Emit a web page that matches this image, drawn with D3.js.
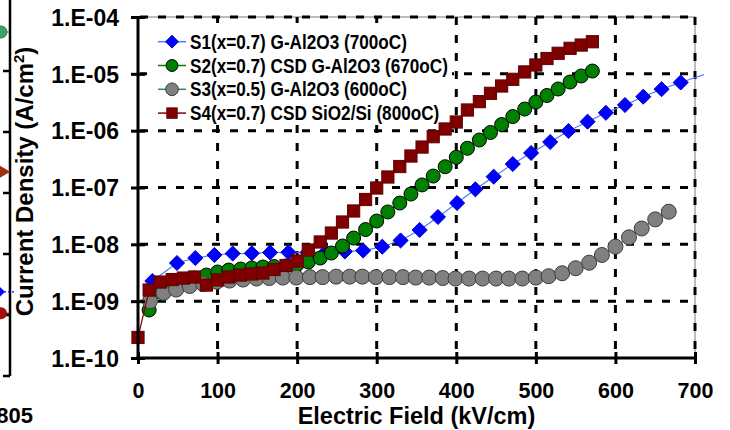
<!DOCTYPE html>
<html>
<head>
<meta charset="utf-8">
<script src="https://cdn.jsdelivr.net/npm/d3@7"></script>
<style>
  body { margin: 0; background: #fff; }
  svg { display: block; font-family: "Liberation Sans", Arial, sans-serif; font-weight: bold; }
</style>
</head>
<body>
<div id="chart"></div>
<script>
// ---- data ----
var yTicks = [1e-4, 1e-5, 1e-6, 1e-7, 1e-8, 1e-9, 1e-10];
var yTickLabels = ["1.E-04", "1.E-05", "1.E-06", "1.E-07", "1.E-08", "1.E-09", "1.E-10"];
var xTicks = [0, 100, 200, 300, 400, 500, 600, 700];

var seriesNames = [
  "S1(x=0.7) G-Al2O3 (700oC)",
  "S2(x=0.7) CSD G-Al2O3 (670oC)",
  "S3(x=0.5) G-Al2O3 (600oC)",
  "S4(x=0.7) CSD SiO2/Si (800oC)"
];

var s1Field = [18, 49, 72, 96, 119, 143, 166, 189, 213, 236, 260, 283, 307, 330, 354, 377, 401, 424, 447, 471, 494, 518, 541, 565, 588, 612, 635, 658, 682];
var s1Current = [2.26e-9, 4.69e-9, 5.74e-9, 6.49e-9, 6.89e-9, 6.95e-9, 7.18e-9, 7.24e-9, 7.18e-9, 7.33e-9, 7.48e-9, 7.78e-9, 9.08e-9, 1.17e-8, 1.79e-8, 3.03e-8, 5.33e-8, 9.29e-8, 1.55e-7, 2.59e-7, 4.05e-7, 6.31e-7, 9.86e-7, 1.44e-6, 2.06e-6, 2.83e-6, 3.96e-6, 5.37e-6, 7.04e-6];
// the S1 line runs on past the last marker, out of the frame
var s1TailField = [682, 730];
var s1TailCurrent = [7.04e-6, 1.19e-5];

var s2Field = [14, 28, 43, 57, 71, 86, 100, 114, 129, 143, 157, 171, 186, 200, 214, 229, 243, 257, 271, 286, 300, 314, 329, 343, 357, 371, 386, 400, 414, 429, 443, 457, 471, 486, 500, 514, 528, 543, 557, 571];
var s2Current = [7.0e-10, 1.45e-9, 1.92e-9, 2.26e-9, 2.55e-9, 2.88e-9, 3.26e-9, 3.53e-9, 3.68e-9, 3.83e-9, 3.99e-9, 4.07e-9, 4.16e-9, 4.42e-9, 4.89e-9, 5.74e-9, 7.03e-9, 9.33e-9, 1.29e-8, 1.82e-8, 2.57e-8, 3.71e-8, 5.33e-8, 7.67e-8, 1.11e-7, 1.59e-7, 2.32e-7, 3.40e-7, 4.90e-7, 6.85e-7, 9.29e-7, 1.28e-6, 1.77e-6, 2.40e-6, 3.19e-6, 4.16e-6, 5.41e-6, 7.18e-6, 9.16e-6, 1.12e-5];

var s3Field = [15, 32, 48, 65, 82, 99, 115, 132, 149, 165, 182, 199, 216, 232, 249, 266, 282, 299, 316, 333, 349, 366, 383, 399, 416, 433, 450, 466, 483, 500, 516, 533, 550, 567, 583, 600, 617, 633, 650, 667];
var s3Current = [1.0e-9, 1.4e-9, 1.6e-9, 1.85e-9, 2.0e-9, 2.2e-9, 2.3e-9, 2.4e-9, 2.5e-9, 2.55e-9, 2.6e-9, 2.6e-9, 2.65e-9, 2.65e-9, 2.7e-9, 2.7e-9, 2.7e-9, 2.65e-9, 2.65e-9, 2.65e-9, 2.6e-9, 2.6e-9, 2.55e-9, 2.5e-9, 2.5e-9, 2.5e-9, 2.5e-9, 2.5e-9, 2.5e-9, 2.6e-9, 2.75e-9, 3.1e-9, 3.8e-9, 4.75e-9, 6.5e-9, 9.1e-9, 1.33e-8, 1.9e-8, 2.75e-8, 3.75e-8];

var s4Field = [0, 14, 28, 43, 57, 71, 86, 100, 114, 129, 143, 157, 171, 186, 200, 214, 229, 243, 257, 271, 286, 300, 314, 329, 343, 357, 371, 386, 400, 414, 429, 443, 457, 471, 486, 500, 514, 528, 543, 557, 571];
var s4Current = [2.3e-10, 1.57e-9, 2.17e-9, 2.40e-9, 2.55e-9, 2.66e-9, 1.92e-9, 2.36e-9, 2.66e-9, 2.88e-9, 3.01e-9, 3.13e-9, 3.61e-9, 4.24e-9, 5.08e-9, 7.94e-9, 1.10e-8, 1.58e-8, 2.47e-8, 3.86e-8, 6.15e-8, 9.80e-8, 1.53e-7, 2.34e-7, 3.58e-7, 5.15e-7, 7.83e-7, 1.07e-6, 1.42e-6, 2.31e-6, 3.24e-6, 4.54e-6, 6.11e-6, 8.01e-6, 1.08e-5, 1.43e-5, 1.86e-5, 2.30e-5, 2.81e-5, 3.21e-5, 3.67e-5];

// bits of the neighbouring panel that the crop cut into (left edge)
var nbTicks = [0, 1, 2, 3, 4, 5];
var nbMarkerValues = [5.59, 3.30, 1.33, 0.98];
var nbMarkerKinds = ["circleG", "triangle", "diamond", "circleR"];

// ---- setup ----
var width = 730,
    height = 430,
    plotL = 138, plotR = 695, plotT = 17, plotB = 358;

var x = d3.scaleLinear().domain([0, 700]).range([plotL, plotR]);
var y = d3.scaleLog().domain([1e-10, 1e-4]).range([plotB, plotT]);

var svg = d3.select("#chart").append("svg")
    .attr("width", width)
    .attr("height", height);

svg.append("defs").append("clipPath")
    .attr("id", "plotclip")
  .append("rect")
    .attr("x", 0).attr("y", 0)
    .attr("width", x(700) + 9).attr("height", height);

// frame
svg.append("rect")
    .attr("x", plotL).attr("y", plotT)
    .attr("width", plotR - plotL).attr("height", plotB - plotT)
    .attr("fill", "#fff")
    .attr("stroke", "#a6a6a6")
    .attr("stroke-width", 1.5);

// dashed grid
var grid = svg.append("g").attr("class", "grid");
grid.selectAll("line.h")
    .data(yTicks.slice(0, 6))
    .enter().append("line")
    .attr("class", "h")
    .attr("x1", plotL + 2).attr("x2", plotR)
    .attr("y1", function(d) { return y(d); })
    .attr("y2", function(d) { return y(d); })
    .attr("stroke", "#000")
    .attr("stroke-width", 3)
    .attr("stroke-dasharray", "8,10");
grid.selectAll("line.v")
    .data(xTicks.slice(1))
    .enter().append("line")
    .attr("class", "v")
    .attr("y1", plotT).attr("y2", plotB - 2)
    .attr("x1", function(d) { return x(d); })
    .attr("x2", function(d) { return x(d); })
    .attr("stroke", "#000")
    .attr("stroke-width", 3)
    .attr("stroke-dasharray", "8,10");

// legend box (white, no border) sits over the grid
var legend = svg.append("g").attr("class", "legend");
legend.append("rect")
    .attr("x", 147).attr("y", 23)
    .attr("width", 305).attr("height", 101)
    .attr("fill", "#fff");

// ---- series ----
var series = [
  { field: s1Field, current: s1Current, line: "#4a7dff", fill: "#0000ff", stroke: "#0000c0", shape: "diamond", size: 145 },
  { field: s2Field, current: s2Current, line: "#008000", fill: "#008000", stroke: "#000", shape: "circle", size: 7 },
  { field: s3Field, current: s3Current, line: "#2e7f7a", fill: "#808080", stroke: "#3c3c3c", shape: "circle", size: 7.5 },
  { field: s4Field, current: s4Current, line: "#800000", fill: "#800000", stroke: "#600000", shape: "square", size: 12.2 }
];

var line = d3.line()
    .x(function(d) { return x(d[0]); })
    .y(function(d) { return y(d[1]); });

function drawMarker(g, s, k) {
  k = k || 1;
  if (s.shape === "diamond") {
    g.append("path").attr("d", d3.symbol().type(d3.symbolDiamond2).size(s.size * k * k)());
  } else if (s.shape === "circle") {
    g.append("circle").attr("r", s.size * k);
  } else {
    var h = s.size * k / 2;
    g.append("rect").attr("x", -h).attr("y", -h).attr("width", 2 * h).attr("height", 2 * h);
  }
  g.selectAll("*")
    .attr("fill", s.fill)
    .attr("stroke", s.stroke)
    .attr("stroke-width", 1);
}

var plot = svg.append("g").attr("clip-path", "url(#plotclip)");

plot.append("path")
    .datum(d3.zip(s1TailField, s1TailCurrent))
    .attr("d", line)
    .attr("fill", "none")
    .attr("stroke", series[0].line)
    .attr("stroke-width", 1.2);

series.forEach(function(s, i) {
  var pts = d3.zip(s.field, s.current);
  var g = plot.append("g").attr("class", "series s" + (i + 1));
  g.append("path")
      .datum(pts)
      .attr("d", line)
      .attr("fill", "none")
      .attr("stroke", s.line)
      .attr("stroke-width", 1.2);
  g.selectAll("g.pt")
      .data(pts)
      .enter().append("g")
      .attr("class", "pt")
      .attr("transform", function(d) { return "translate(" + x(d[0]) + "," + y(d[1]) + ")"; })
      .each(function() { drawMarker(d3.select(this), s); });
});

// legend entries
seriesNames.forEach(function(name, i) {
  var s = series[i];
  var ly = 41.7 + i * 23.8;
  var row = legend.append("g").attr("transform", "translate(0," + ly + ")");
  row.append("line")
      .attr("x1", 158).attr("x2", 186)
      .attr("stroke", s.line).attr("stroke-width", 1.5);
  var m = row.append("g").attr("transform", "translate(172,0)");
  drawMarker(m, s, 0.85);
  row.append("text")
      .attr("transform", "translate(190,7) scale(0.88,1)")
      .attr("font-size", 19.5)
      .attr("fill", "#000")
      .text(name);
});

// ---- axes ----
var yAxis = d3.axisLeft(y)
    .tickValues(yTicks)
    .tickFormat(function(d, i) { return yTickLabels[i]; })
    .tickSize(7)
    .tickPadding(12);
var gy = svg.append("g")
    .attr("transform", "translate(" + plotL + ",0)")
    .call(yAxis);
gy.select(".domain").attr("stroke", "#000").attr("stroke-width", 3)
    .attr("d", "M0," + plotT + "V" + (plotB + 1.5));
gy.selectAll(".tick line").attr("x1", 7).attr("x2", -7).attr("stroke-width", 3);
gy.selectAll(".tick text")
    .attr("font-size", 23)
    .attr("font-family", "\"Liberation Sans\", Arial, sans-serif")
    .attr("font-weight", "bold")
    .attr("fill", "#000")
    .attr("dy", "0.36em");

var xAxis = d3.axisBottom(x)
    .tickValues(xTicks)
    .tickFormat(d3.format("d"))
    .tickSize(6)
    .tickPadding(19);
var gx = svg.append("g")
    .attr("transform", "translate(0," + plotB + ")")
    .call(xAxis);
gx.select(".domain").attr("stroke", "#000").attr("stroke-width", 3)
    .attr("d", "M" + (plotL - 1.5) + ",0H" + plotR);
gx.selectAll(".tick line").attr("y1", -6).attr("y2", 6).attr("stroke-width", 3);
gx.selectAll(".tick text")
    .attr("font-size", 21.5)
    .attr("font-family", "\"Liberation Sans\", Arial, sans-serif")
    .attr("font-weight", "bold")
    .attr("fill", "#000");

svg.append("text")
    .attr("x", (plotL + plotR) / 2)
    .attr("y", 424)
    .attr("text-anchor", "middle")
    .attr("font-size", 23.5)
    .text("Electric Field (kV/cm)");

var yTitle = svg.append("text")
    .attr("transform", "translate(33," + ((plotT + plotB) / 2 - 6) + ") rotate(-90)")
    .attr("text-anchor", "middle")
    .attr("font-size", 24);
yTitle.append("tspan").text("Current Density (A/cm");
yTitle.append("tspan").attr("dy", -9).attr("font-size", 15).text("2");
yTitle.append("tspan").attr("dy", 9).text(")");

// ---- neighbouring panel remnant ----
var nb = d3.scaleLinear().domain([0, 6]).range([373, 7]);
var nbg = svg.append("g");
nbg.append("line")
    .attr("x1", 10).attr("x2", 10).attr("y1", 0).attr("y2", nb(0) + 3)
    .attr("stroke", "#000").attr("stroke-width", 2.5);
nbg.selectAll("line.t")
    .data(nbTicks)
    .enter().append("line")
    .attr("x1", 3).attr("x2", 10)
    .attr("y1", function(d) { return nb(d) + 3; })
    .attr("y2", function(d) { return nb(d) + 3; })
    .attr("stroke", "#000").attr("stroke-width", 2.5);
nbMarkerValues.forEach(function(v, i) {
  var k = nbMarkerKinds[i];
  var cy = nb(v);
  if (k === "circleG") {
    nbg.append("line").attr("x1", 0).attr("x2", 9).attr("y1", cy).attr("y2", cy).attr("stroke", "#3a9a60").attr("stroke-width", 1.2);
    nbg.append("circle").attr("cx", 1).attr("cy", cy).attr("r", 6).attr("fill", "#3aa36a").attr("stroke", "#2a7a50");
  } else if (k === "triangle") {
    nbg.append("path").attr("d", d3.symbol().type(d3.symbolTriangle).size(70)())
      .attr("transform", "translate(3," + cy + ") rotate(90)")
      .attr("fill", "#a03010");
  } else if (k === "diamond") {
    nbg.append("line").attr("x1", 4).attr("x2", 14).attr("y1", cy).attr("y2", cy)
      .attr("stroke", "#0000ff").attr("stroke-width", 1.2).attr("stroke-dasharray", "2,2");
    nbg.append("path").attr("d", d3.symbol().type(d3.symbolDiamond2).size(60)())
      .attr("transform", "translate(0," + cy + ")").attr("fill", "#0000ff");
  } else {
    nbg.append("line").attr("x1", 0).attr("x2", 9).attr("y1", cy).attr("y2", cy).attr("stroke", "#8b0000").attr("stroke-width", 1.2);
    nbg.append("circle").attr("cx", 1).attr("cy", cy).attr("r", 6).attr("fill", "#a01010");
  }
});
svg.append("text")
    .attr("x", 33).attr("y", 423)
    .attr("text-anchor", "end")
    .attr("font-size", 22)
    .text("805");
</script>
</body>
</html>
